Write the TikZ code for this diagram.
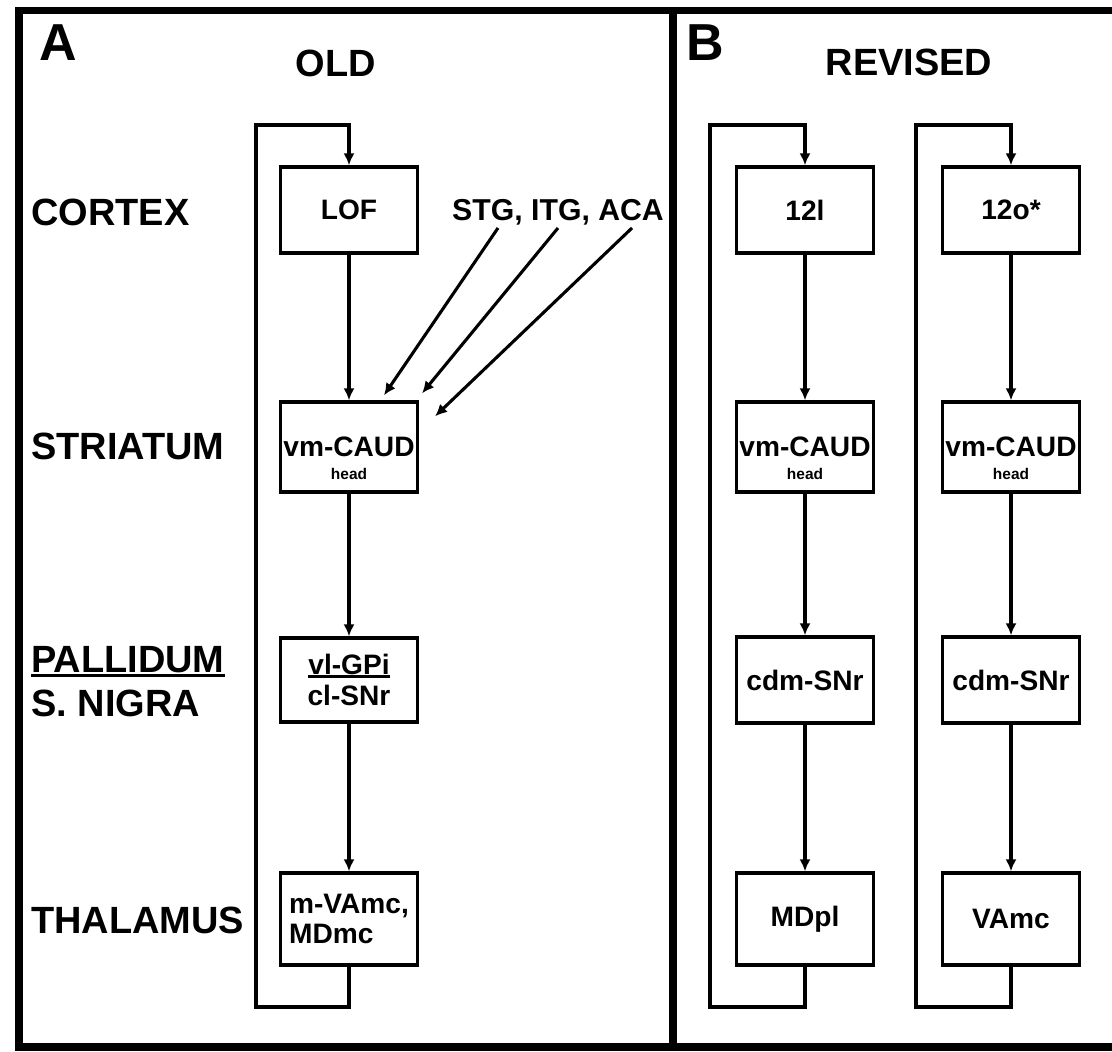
\documentclass[tikz,border=0pt]{standalone}
\usepackage{fontspec}
\setmainfont{Liberation Sans}
\usetikzlibrary{arrows.meta,calc,positioning}
\newcommand{\thickul}[1]{\setbox0\hbox{#1}\rlap{\rule[-0.12em]{\wd0}{0.08em}}\box0}

\tikzset{
  panel/.style={font=\fontsize{37}{40}\selectfont\bfseries},
  heading/.style={font=\fontsize{27}{30}\selectfont\bfseries},
  region/.style={anchor=west, inner sep=0pt, font=\fontsize{27}{30}\selectfont\bfseries},
  nucleus/.style={draw, line width=2.4pt, minimum width=3.42cm, minimum height=2.2cm,
    inner sep=0pt, align=center, font=\fontsize{20}{22}\selectfont\bfseries},
  headtxt/.style={inner sep=0pt, font=\fontsize{11}{12}\selectfont\bfseries},
  flow/.style={line width=2.2pt, -{Latex[length=3mm,width=2.8mm]}},
}

\begin{document}
\begin{tikzpicture}
\useasboundingbox (0,0) rectangle (27.8,26.3);
% frame and divider
\draw[line width=5pt] (27.8,26.025) -- (0.475,26.025) -- (0.475,0.125) -- (27.8,0.125);
\draw[line width=5pt] (16.825,26.025) -- (16.825,0.125);

\node[panel] (pA) at (1.45,25.225) {A};
\node[heading] (old) at (8.4,24.725) {OLD};
\node[panel] (pB) at (17.625,25.225) {B};
\node[heading] (revised) at (22.725,24.75) {REVISED};

\node[region] (cortex) at (0.775,21.0) {CORTEX};
\node[region] (striatum) at (0.775,15.15) {STRIATUM};
\node[region] (pallidum) at (0.775,9.75) {\thickul{PALLIDUM}};
\node[region] (nigra) at (0.775,8.725) {S. NIGRA};
\node[region] (thalamus) at (0.775,3.3) {THALAMUS};

% A: old circuit
\node[nucleus, minimum height=2.15cm] (lofA) at (8.725,21.05) {LOF};
\node[nucleus, minimum height=2.25cm] (caudA) at (8.725,15.125) {vm-CAUD};
\node[headtxt] (headA) at ([yshift=-0.675cm]caudA.center) {head};
\node[nucleus, minimum height=2.1cm, font=\fontsize{20}{22.5}\selectfont\bfseries] (gpiA) at (8.725,9.3) {\thickul{vl-GPi}\\cl-SNr};
\node[nucleus, minimum height=2.3cm, align=left, font=\fontsize{20}{21.5}\selectfont\bfseries] (thalA) at (8.725,3.325) {m-VAmc,\\MDmc};
\node[inner sep=2pt, font=\fontsize{21.5}{23}\selectfont\bfseries] (stg) at (13.95,21.0) {STG, ITG, ACA};

\draw[flow] (lofA) -- (caudA);
\draw[flow] (caudA) -- (gpiA);
\draw[flow] (gpiA) -- (thalA);
\draw[flow] (thalA) |- (6.4,1.125) |- (8.725,23.175) -- (lofA);
\draw[flow] ([xshift=-1.5cm]stg.south) -- ([shift={(0.875,0.125)}]caudA.north);
\draw[flow] (stg.south) -- ([shift={(0.075,0.175)}]caudA.north east);
\draw[flow] ([xshift=1.85cm]stg.south) -- ([shift={(0.4,-0.4)}]caudA.north east);

% B: revised circuits
\foreach \n/\cx/\toptxt/\thaltxt in {1/20.125/12l/MDpl, 2/25.275/12o*/VAmc}
{
  \node[nucleus, minimum height=2.15cm] (top\n) at (\cx,21.05) {\toptxt};
  \node[nucleus, minimum height=2.25cm] (caud\n) at (\cx,15.125) {vm-CAUD};
  \node[headtxt] (head\n) at ([yshift=-0.675cm]caud\n.center) {head};
  \node[nucleus, minimum height=2.15cm] (snr\n) at (\cx,9.3) {cdm-SNr};
  \node[nucleus, minimum height=2.3cm] (thal\n) at (\cx,3.325) {\thaltxt};
  \draw[flow] (top\n) -- (caud\n);
  \draw[flow] (caud\n) -- (snr\n);
  \draw[flow] (snr\n) -- (thal\n);
  \draw[flow] (thal\n) |- (\cx-2.375,1.125) |- (\cx,23.175) -- (top\n);
}
\end{tikzpicture}
\end{document}
